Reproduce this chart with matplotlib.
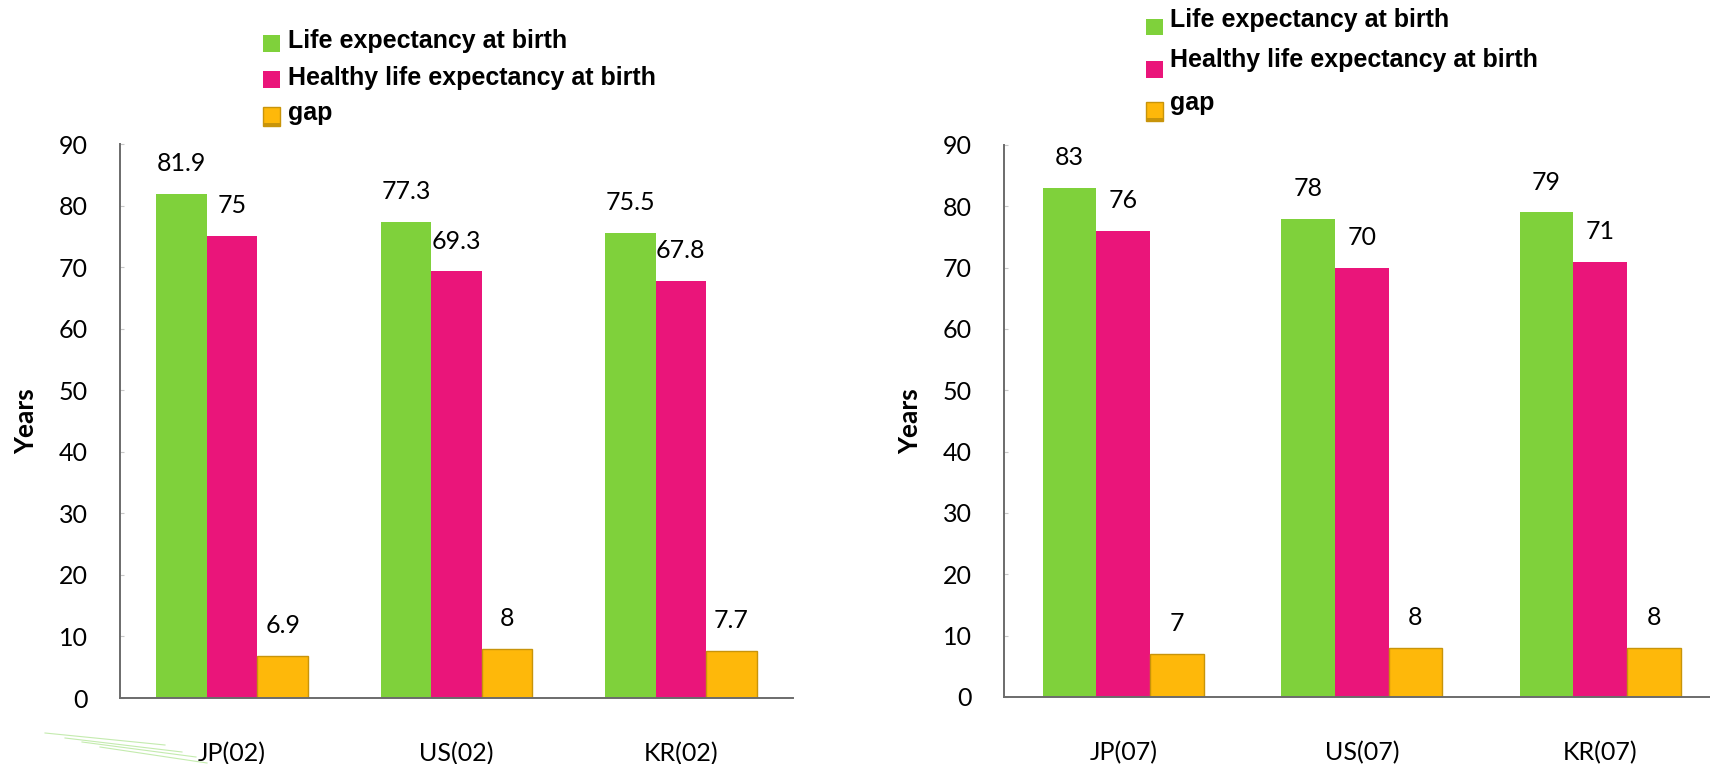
import numpy as np
import matplotlib
matplotlib.use('Agg')
import matplotlib.pyplot as plt
from matplotlib.patches import Rectangle
from matplotlib.lines import Line2D

# life expectancy data, 2002 and 2007
countries_02 = ['JP(02)', 'US(02)', 'KR(02)']
life_02 = [81.9, 77.3, 75.5]
healthy_02 = [75, 69.3, 67.8]
gap_02 = [6.9, 8, 7.7]

countries_07 = ['JP(07)', 'US(07)', 'KR(07)']
life_07 = [83, 78, 79]
healthy_07 = [76, 70, 71]
gap_07 = [7, 8, 8]

series_names = ['Life expectancy at birth', 'Healthy life expectancy at birth', 'gap']
yticks = list(range(0, 100, 10))

GREEN = '#7fd13b'
PINK = '#ea157a'
ORANGE = '#feb80a'
ORANGE_EDGE = '#c8940a'
colors = [GREEN, PINK, ORANGE]

NUM_FONT = ['Lato', 'DejaVu Sans']
LEG_FONT = ['Liberation Sans Narrow', 'Liberation Sans', 'DejaVu Sans']

W, H = 1710, 764
fig = plt.figure(figsize=(W / 100, H / 100), dpi=100)


def px(x, y, w, h):
    """pixel box (top-left origin) -> figure fraction rect"""
    return [x / W, 1 - (y + h) / H, w / W, h / H]


def bar_chart(ax, cats, life, healthy, gap, xmax):
    x = np.arange(len(cats))
    bw = 0.225
    groups = [life, healthy, gap]
    for i, vals in enumerate(groups):
        pos = x + (i - 1) * bw
        if i == 2:
            bars = ax.bar(pos, vals, bw, color=colors[i], edgecolor=ORANGE_EDGE,
                          linewidth=1.0, zorder=2)
        else:
            bars = ax.bar(pos, vals, bw, color=colors[i], linewidth=0, zorder=2)
        for b, v in zip(bars, vals):
            ax.annotate(f'{v:g}', (b.get_x() + b.get_width() / 2, v),
                        xytext=(0, 16.5), textcoords='offset points',
                        ha='center', va='baseline', fontsize=18,
                        family=NUM_FONT, color='black')
    ax.set_xlim(-0.5, xmax)
    ax.set_ylim(0, 90)
    ax.set_yticks(yticks)
    ax.set_xticks(x)
    ax.set_xticklabels(cats, fontsize=18, family=NUM_FONT)
    for lab in ax.get_yticklabels():
        lab.set_family(NUM_FONT)
        lab.set_fontsize(18)
    ax.tick_params(axis='y', direction='in', length=3, width=0.8,
                   color='#c8c8c8', pad=23)
    ax.tick_params(axis='x', length=0, pad=31.5)
    for s in ['top', 'right']:
        ax.spines[s].set_visible(False)
    for s in ['left', 'bottom']:
        ax.spines[s].set_color('#6b6b6b')
        ax.spines[s].set_linewidth(1.4)
    ax.set_ylabel('Years', fontsize=19, fontweight='bold', family=NUM_FONT)


ax1 = fig.add_axes(px(120, 144, 673, 554))
bar_chart(ax1, countries_02, life_02, healthy_02, gap_02, 2.5)
ax1.yaxis.set_label_coords(-0.122, 0.5)

ax2 = fig.add_axes(px(1004, 145, 706, 552))
bar_chart(ax2, countries_07, life_07, healthy_07, gap_07, 2.46)
ax2.yaxis.set_label_coords(-0.116, 0.5)


def legend(x_sq, x_txt, sq_tops, sq_hs, baselines):
    for name, c, top, h, base in zip(series_names, colors, sq_tops, sq_hs, baselines):
        if c == ORANGE:
            fig.add_artist(Rectangle((x_sq / W, 1 - (top + h) / H), 17 / W, h / H,
                                     transform=fig.transFigure, facecolor=ORANGE,
                                     edgecolor=ORANGE_EDGE, linewidth=1.0))
            fig.add_artist(Rectangle((x_sq / W, 1 - (top + h) / H), 17 / W, 3 / H,
                                     transform=fig.transFigure, facecolor=ORANGE_EDGE,
                                     linewidth=0))
        else:
            fig.add_artist(Rectangle((x_sq / W, 1 - (top + h) / H), 17 / W, h / H,
                                     transform=fig.transFigure, facecolor=c,
                                     linewidth=0))
        fig.text(x_txt / W, 1 - base / H, name, fontsize=18, fontweight='bold',
                 family=LEG_FONT, ha='left', va='baseline')


legend(263, 288, [35, 71, 107], [17, 17, 19], [48, 85, 120])
legend(1146, 1170, [19, 61, 102], [16, 17, 19], [27, 67, 110])

# faint leftover strokes under the first axis
for (x0, y0), (x1, y1) in [((45, 733), (165, 745)), ((65, 738), (182, 752)),
                           ((82, 742), (196, 757)), ((100, 747), (207, 763))]:
    fig.add_artist(Line2D([x0 / W, x1 / W], [1 - y0 / H, 1 - y1 / H],
                          transform=fig.transFigure, color='#b5e69a',
                          linewidth=0.8, alpha=0.8))

fig.savefig('out.png', dpi=100)
